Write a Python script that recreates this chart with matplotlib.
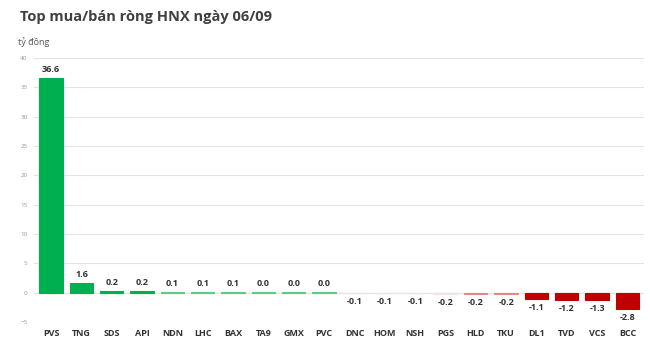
import numpy as np
import matplotlib.pyplot as plt

plt.rcParams['font.family'] = ['Open Sans', 'DejaVu Sans']

tickers = ['PVS', 'TNG', 'SDS', 'API', 'NDN', 'LHC', 'BAX', 'TA9', 'GMX', 'PVC',
           'DNC', 'HOM', 'NSH', 'PGS', 'HLD', 'TKU', 'DL1', 'TVD', 'VCS', 'BCC']
values = [36.6, 1.6, 0.2, 0.2, 0.1, 0.1, 0.1, 0.04, 0.04, 0.04,
          -0.1, -0.1, -0.1, -0.2, -0.2, -0.2, -1.1, -1.2, -1.3, -2.8]

# colour shading as in the source (strong / faded / almost invisible)
colors = ['#00B050'] * 4 + ['#5CCB85'] * 6 + ['#F3E4E4'] * 4 + ['#DE8A8A'] * 2 + ['#C00000'] * 4

fig = plt.figure(figsize=(6.5, 3.53), dpi=100)
ax = fig.add_axes([0.053, 0.088, 0.938, 0.748])

x = np.arange(len(tickers))
ax.bar(x, values, width=0.77, color=colors, edgecolor=colors, linewidth=0.8, zorder=3)

for xi, v in zip(x, values):
    if v >= 0:
        ax.text(xi, v + 0.7, f'{v:.1f}', ha='center', va='bottom', fontsize=6.5,
                fontweight='bold', color='#333333')
    else:
        ax.text(xi, v - 0.7, f'{v:.1f}', ha='center', va='top', fontsize=6.5,
                fontweight='bold', color='#333333')

ax.set_ylim(-5, 40)
ax.set_xlim(-0.55, len(tickers) - 0.45)
ax.set_yticks(range(-5, 41, 5))
ax.tick_params(axis='y', labelsize=4.5, labelcolor='#999999', length=0, pad=5)
ax.set_xticks(x)
ax.set_xticklabels(tickers, fontsize=6.5, fontweight='bold', color='#333333')
ax.tick_params(axis='x', length=0, pad=5)

ax.grid(axis='y', color='#e4e4e4', linewidth=0.8, zorder=0)
ax.get_ygridlines()[0].set_linestyle((0, (1, 1.5)))
ax.get_ygridlines()[0].set_color('#cccccc')
ax.axhline(0, color='#d9d9d9', linewidth=0.8, zorder=1)
for s in ax.spines.values():
    s.set_visible(False)

fig.text(0.03, 0.952, 'Top mua/bán ròng HNX ngày 06/09', fontsize=10.5,
         fontweight='bold', color='#404040', va='center')
fig.text(0.028, 0.882, 'tỷ đồng', fontsize=6.5, color='#555555', va='center')

fig.savefig('out.png', dpi=100, facecolor='white')
